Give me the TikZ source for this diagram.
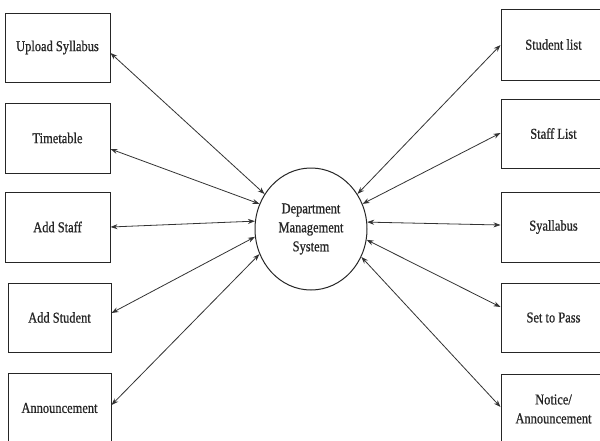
\documentclass[tikz,border=0pt]{standalone}
\usepackage{fontspec}
\setmainfont{Liberation Serif}
\newfontfamily\lblfont{Liberation Serif}[FakeStretch=0.83,FakeBold=0.8]
\usetikzlibrary{shapes.geometric,arrows.meta,calc}
\begin{document}
\begin{tikzpicture}[x=1pt,y=-1pt,
  lbl/.style={font=\lblfont\fontsize{15}{19}\selectfont,text=black!85},
  box/.style={lbl,draw=black!85,line width=1pt,rectangle,minimum width=105pt,minimum height=70pt,inner sep=0pt,align=center},
  link/.style={draw=black!80,line width=0.8pt,{Stealth[length=7pt,width=5pt]}-{Stealth[length=7pt,width=5pt]}}]
\clip (0,0) rectangle (600,440);
\fill[white] (0,0) rectangle (600,440);
% left boxes
\node[box,minimum height=69pt] (L1) at (57.5,47.5) {Upload Syllabus};
\node[box] (L2) at (57.5,138) {Timetable};
\node[box] (L3) at (57.5,227) {Add Staff};
\node[box,minimum width=103pt,minimum height=69pt] (L4) at (59.5,317.5) {Add Student};
\node[box,minimum width=103pt] (L5) at (59.5,408) {Announcement};
% right boxes
\node[box,minimum height=71pt] (R1) at (553.5,44.5) {Student list};
\node[box,minimum height=69pt] (R2) at (553.5,133.5) {Staff List};
\node[box] (R3) at (553.5,227) {Syallabus};
\node[box,minimum height=69pt] (R4) at (553.5,317.5) {Set to Pass};
\node[box] (R5) at (553.5,409) {Notice/\\Announcement};
% centre
\node[lbl,draw=black!85,line width=1pt,ellipse,minimum width=112pt,minimum height=122pt,inner sep=0pt,align=center] (C) at (311,229) {Department\\Management\\System};
% connectors
\draw[link] ($(L1.east)+(0,5.5)$) -- (C.143);
\draw[link] ($(L2.east)+(0,11)$) -- (C.154);
\draw[link] (L3.east) -- (C.172);
\draw[link] ($(L4.east)+(0,-4.5)$) -- (C.188);
\draw[link] ($(L5.east)+(0,-3)$) -- (C.206);
\draw[link] ($(R1.west)+(0,0.5)$) -- (C.37.6);
\draw[link] ($(R2.west)+(0,-0.5)$) -- (C.26);
\draw[link] ($(R3.west)+(0,-2)$) -- (C.7);
\draw[link] ($(R4.west)+(0,-10.5)$) -- (C.349);
\draw[link] ($(R5.west)+(0,-2)$) -- (C.331);
\end{tikzpicture}
\end{document}
